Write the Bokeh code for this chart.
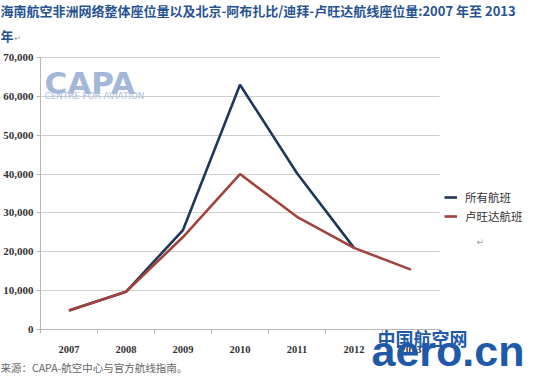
from bokeh.plotting import figure
from bokeh.models import (Range1d, NumeralTickFormatter, Label, Legend,
                          LegendItem, LinearAxis, FixedTicker, Grid)
from bokeh.embed import file_html
from bokeh.resources import INLINE

# ---- data ----
years = ["2007", "2008", "2009", "2010", "2011", "2012", "2013"]
all_years = ["2007", "2008", "2009", "2010", "2011", "2012"]
all_flights = [4900, 9700, 25600, 63000, 40200, 21000]
rwanda_flights = [4900, 9700, 23800, 40000, 29000, 21000, 15400]
y_ticks = [0, 10000, 20000, 30000, 40000, 50000, 60000, 70000]

title_1 = "海南航空非洲网络整体座位量以及北京-阿布扎比/迪拜-卢旺达航线座位量:2007 年至 2013"
title_2 = "年"
legend_names = ["所有航班", "卢旺达航班"]
source_text = "来源：CAPA-航空中心与官方航线指南。"

BLUE = "#1e3859"
RED = "#a2433d"
CJK = "Noto Sans CJK SC"

# ---- layout (pixels) ----
W, H = 524, 375
PL, PR, PT, PB = 40, 439, 57, 329        # plot area inside the canvas
n = len(years)
ymax = y_ticks[-1]
px_x = (PR - PL) / n
px_y = (PB - PT) / ymax

x_of = {y: i + 0.5 for i, y in enumerate(years)}

p = figure(width=W, height=H, output_backend="svg", toolbar_location=None,
           x_range=Range1d(-PL / px_x, (W - PL) / px_x),
           y_range=Range1d(-(H - PB) / px_y, ymax + PT / px_y),
           min_border=0, min_border_left=0, min_border_right=0,
           min_border_top=0, min_border_bottom=0)
p.background_fill_color = "white"
p.border_fill_color = "white"
p.outline_line_color = None

r_all = p.line([x_of[y] for y in all_years], all_flights,
               line_color=BLUE, line_width=2.6)
r_rw = p.line([x_of[y] for y in years], rwanda_flights,
              line_color=RED, line_width=2.6)

# ---- axes ----
AX = "#b8b8b8"
yax = p.yaxis[0]
yax.ticker = FixedTicker(ticks=y_ticks)
yax.formatter = NumeralTickFormatter(format="0,0")
yax.fixed_location = 0
yax.bounds = (0, ymax)
yax.axis_line_color = AX
yax.major_tick_line_color = AX
yax.major_tick_out = 4
yax.major_tick_in = 0
yax.minor_tick_line_color = None
yax.major_label_standoff = 3
yax.major_label_text_font = "Liberation Serif"
yax.major_label_text_font_style = "bold"
yax.major_label_text_font_size = "11px"
yax.major_label_text_color = "#333333"

xax = p.xaxis[0]
xax.ticker = FixedTicker(ticks=list(range(n + 1)))
xax.major_label_overrides = {i: "" for i in range(n + 1)}
xax.fixed_location = 0
xax.bounds = (0, n)
xax.axis_line_color = AX
xax.major_tick_line_color = AX
xax.major_tick_out = 4
xax.major_tick_in = 0
xax.minor_tick_line_color = None

lab_ax = LinearAxis(ticker=FixedTicker(ticks=[x_of[y] for y in years]),
                    major_label_overrides={x_of[y]: y for y in years},
                    fixed_location=0, axis_line_color=None,
                    major_tick_line_color=None, minor_tick_line_color=None,
                    major_label_standoff=10,
                    major_label_text_font="Liberation Serif",
                    major_label_text_font_style="bold",
                    major_label_text_font_size="10.5px",
                    major_label_text_color="#333333")
p.add_layout(lab_ax, "below")

p.xgrid.grid_line_color = None
p.ygrid.grid_line_color = "#cfcfcf"
p.ygrid.grid_line_width = 1
if "cross_bounds" in Grid.properties():
    p.ygrid.cross_bounds = (0, n)

# ---- legend ----
legend = Legend(items=[LegendItem(label=legend_names[0], renderers=[r_all]),
                       LegendItem(label=legend_names[1], renderers=[r_rw])],
                location=(444, 151), padding=0, margin=0, spacing=3,
                glyph_width=13, glyph_height=14, label_height=14,
                label_standoff=8, border_line_color=None,
                background_fill_alpha=0,
                label_text_font=CJK, label_text_font_size="11.5px",
                label_text_color="#333333")
p.add_layout(legend, "center")


def lab(x, y, text, **kw):
    p.add_layout(Label(x=x, y=y, x_units="screen", y_units="screen",
                       text=text, **kw))


# ---- title ----
TC = "#275391"
lab(0, 365, title_1, text_font=CJK, text_font_style="bold",
    text_font_size="13px", text_color=TC, text_baseline="middle")
lab(0, 340, title_2, text_font=CJK, text_font_style="bold",
    text_font_size="13px", text_color=TC, text_baseline="middle")
lab(14, 337, "↵", text_font="DejaVu Sans", text_font_size="8px",
    text_color="#999999", text_baseline="middle")
lab(476, 134, "↵", text_font="DejaVu Sans", text_font_size="9px",
    text_color="#999999", text_baseline="middle")

# ---- CAPA logo ----
lab(44, 293, "CAPA", text_font="DejaVu Sans", text_font_style="bold",
    text_font_size="31px", text_color="#a3b8d8", text_baseline="alphabetic")
lab(44, 280, "CENTRE FOR AVIATION", text_font="DejaVu Sans",
    text_font_size="8.8px", text_color="#b0c0da", text_baseline="alphabetic")

# ---- source ----
lab(0, 8, source_text, text_font=CJK, text_font_size="10.5px",
    text_color="#666666", text_baseline="middle")

# ---- watermark ----
lab(377, 38, "中国航空网", text_font=CJK, text_font_style="bold",
    text_font_size="18px", text_color="#1e5aa8", text_baseline="middle")
lab(371, 1, "aero.cn", text_font="Liberation Sans", text_font_style="bold",
    text_font_size="43px", text_color="#1e5aa8", text_baseline="bottom")

open("out.html", "w").write(file_html(p, INLINE))
